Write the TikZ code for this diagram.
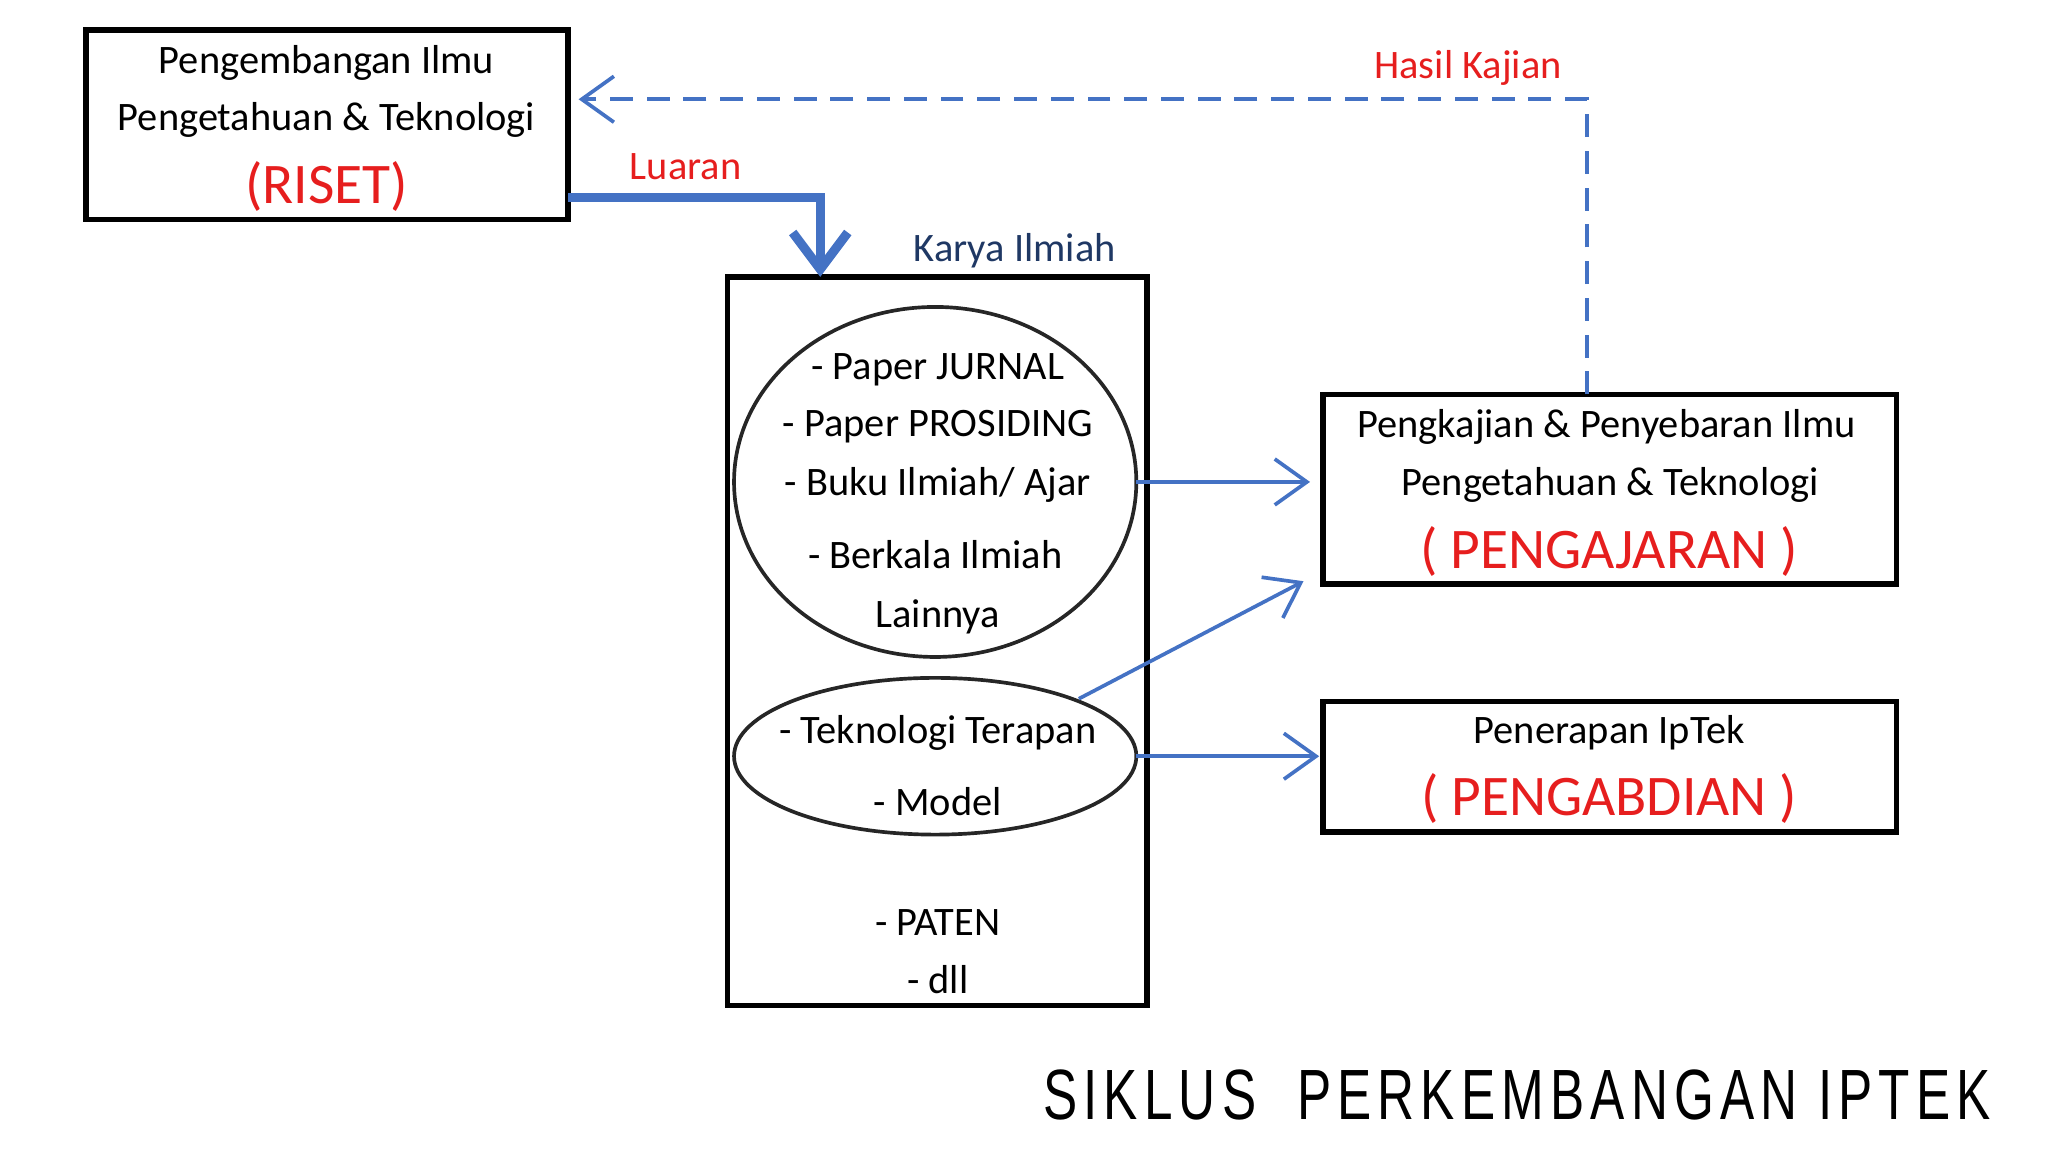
\documentclass[tikz,border=0pt]{standalone}
\usepackage{fontspec}
\setmainfont{Carlito}
\newfontfamily\titlefont[LetterSpace=12]{Liberation Sans}
\usetikzlibrary{arrows.meta}
\definecolor{ablue}{RGB}{68,114,196}
\definecolor{ared}{RGB}{230,30,30}
\definecolor{dblue}{RGB}{31,56,100}
\tikzset{
 box/.style={draw,line width=1.2pt},
 txt/.style={font=\fontsize{8.8}{10}\selectfont,inner sep=0},
 big/.style={font=\fontsize{12.5}{14}\selectfont,text=ared,inner sep=0},
 lbl/.style={font=\fontsize{8.8}{10}\selectfont,inner sep=0},
 thin/.style={ablue,line width=0.8pt,-{Straight Barb[length=7pt,width=10pt]}},
}
\begin{document}
\begin{tikzpicture}[x=0.01cm,y=-0.01cm]
\useasboundingbox (0,0) rectangle (1568,882);
\draw[box] (66,23) rectangle (435,168);
\node[txt] (r1) at (250,48) {Pengembangan Ilmu};
\node[txt] (r2) at (250,92) {Pengetahuan \& Teknologi};
\node[big] (r3) at (250,143) {(RISET)};
\coordinate (rout) at (435,151);
\node[lbl,text=ared] (lu) at (525,128) {Luaran};
\draw[box] (557,212) rectangle (878,770);
\coordinate (kin) at (628,212);
\draw[ablue,line width=2pt,-{Straight Barb[length=8pt,width=12pt]}] (rout) -| (kin);
\node[lbl,text=dblue] (ki) at (777,192) {Karya Ilmiah};
\draw[line width=0.8pt,gray!30!black] (716,369) ellipse [x radius=154,y radius=134];
\node[txt] at (718,283) {- Paper JURNAL};
\node[txt] at (718,327) {- Paper PROSIDING};
\node[txt] at (718,371) {- Buku Ilmiah/ Ajar};
\node[txt] at (716,425) {- Berkala Ilmiah};
\node[txt] at (718,472) {Lainnya};
\draw[line width=0.8pt,gray!30!black] (716,579) ellipse [x radius=154,y radius=60];
\node[txt] at (718,561) {- Teknologi Terapan};
\node[txt] at (718,614) {- Model};
\node[txt] at (718,706) {- PATEN};
\node[txt] at (718,750) {- dll};
\draw[box] (1013,302) rectangle (1452,447);
\node[txt] at (1230,327) {Pengkajian \& Penyebaran Ilmu};
\node[txt] at (1233,371) {Pengetahuan \& Teknologi};
\node[big] at (1232,422) {( PENGAJARAN )};
\draw[box] (1013,537) rectangle (1452,637);
\node[txt] at (1232,561) {Penerapan IpTek};
\node[big] at (1232,611) {( PENGABDIAN )};
\coordinate (e1) at (870,369); \coordinate (p1) at (1003,369);
\coordinate (e2) at (826,535); \coordinate (p2) at (998,445);
\coordinate (e3) at (870,579); \coordinate (p3) at (1010,579);
\draw[thin] (e1) -- (p1);
\draw[thin] (e2) -- (p2);
\draw[thin] (e3) -- (p3);
\coordinate (hs) at (1215,302); \coordinate (he) at (443,76);
\draw[ablue,line width=0.8pt,dash pattern=on 5pt off 3pt,-{Straight Barb[length=7pt,width=10pt]}] (hs) |- (he);
\node[lbl,text=ared] (hk) at (1124,52) {Hasil Kajian};
\node[inner sep=0,anchor=east] (title) at (1525,838) {\scalebox{0.72}[1]{\titlefont\fontsize{15.5}{17}\selectfont SIKLUS\ \ PERKEMBANGAN IPTEK}};
\end{tikzpicture}
\end{document}
